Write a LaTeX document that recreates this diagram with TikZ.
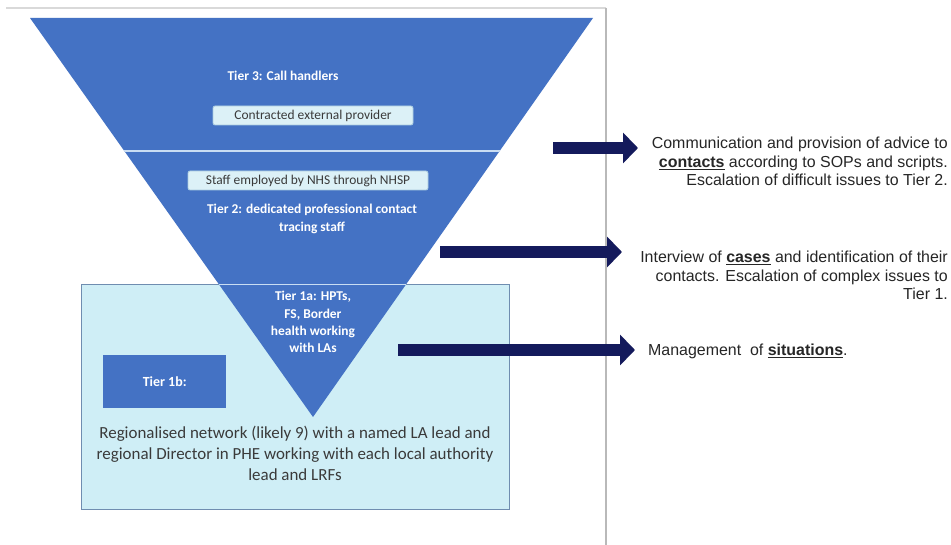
\documentclass[tikz,border=0pt]{standalone}
\usepackage{fontspec}
\setmainfont{Carlito}
\newfontfamily\arialfont{Liberation Sans}
\usetikzlibrary{arrows.meta}
\definecolor{triblue}{HTML}{4472C4}
\definecolor{boxfill}{HTML}{CFEEF6}
\definecolor{boxedge}{HTML}{6F8DB0}
\definecolor{lblfill}{HTML}{DCF1F7}
\definecolor{lbledge}{HTML}{A9CBE0}
\definecolor{navy}{HTML}{141A5C}
\definecolor{sepline}{HTML}{C9DDF3}
\definecolor{darktext}{HTML}{3A3A3A}
\definecolor{desctext}{HTML}{262626}
\begin{document}
\begin{tikzpicture}[x=1bp,y=-1bp,
  tiertext/.style={text=white, font=\fontsize{13.5}{17.5}\selectfont\bfseries, align=center, inner sep=0pt},
  lblbox/.style={fill=lblfill, draw=lbledge, line width=0.8bp, rounded corners=2bp, minimum height=19bp, inner sep=0pt, text=darktext, font=\fontsize{13.5}{16}\selectfont},
  desc/.style={font=\arialfont\fontsize{16}{18.5}\selectfont, text=desctext, inner sep=0pt},
  bigarrow/.style={draw=navy, line width=12.5bp, -{Triangle[length=15bp 0 0, width=30bp 0 0]}},
]
\useasboundingbox (0,0) rectangle (951,545);
\fill[white] (0,0) rectangle (951,545);
% page frame
\draw[gray!30, line width=1.2bp] (6,8) -- (606,8);
\draw[gray!55, line width=1.5bp] (606,8) -- (606,545);

% tier 1b region box
\node[draw=boxedge, fill=boxfill, line width=1.2bp, minimum width=428bp, minimum height=225bp, inner sep=0pt, anchor=north west] (region) at (81,284) {};

% inverted triangle
\coordinate (tl) at (30,18);
\coordinate (tr) at (593,18);
\coordinate (apex) at (313,417);
\fill[triblue] (tl) -- (tr) -- (apex) -- cycle;
\begin{scope}
  \clip (tl) -- (tr) -- (apex) -- cycle;
  \draw[sepline, line width=2bp] (0,151) -- (951,151);
  \draw[sepline, line width=1.6bp] (0,284.5) -- (951,284.5);
\end{scope}

% texts inside triangle
\node[tiertext] (t3) at (283,76) {Tier 3: Call handlers};
\node[lblbox, minimum width=200bp] (ext) at (313,115.5) {Contracted external provider};
\node[lblbox, minimum width=240bp] (nhsp) at (308,180.5) {Staff employed by NHS through NHSP};
\node[tiertext] (t2) at (312,219) {Tier 2: dedicated professional contact\\tracing staff};
\node[tiertext, font=\fontsize{13.5}{17.4}\selectfont\bfseries] (t1a) at (313,322) {Tier 1a: HPTs,\\FS, Border\\health working\\with LAs};

% tier 1b
\node[fill=triblue, minimum width=123bp, minimum height=53bp, inner sep=0pt, anchor=north west, text=white, font=\fontsize{14}{16}\selectfont\bfseries] (t1b) at (103,355) {Tier 1b:};
\node[font=\fontsize{17}{21}\selectfont, text=darktext, align=center, inner sep=0pt] (regtext) at (295,453) {Regionalised network (likely 9) with a named LA lead and\\regional Director in PHE working with each local authority\\lead and LRFs};

% right-hand descriptions
\node[desc, align=right, anchor=north east] (d1) at (948,137) {Communication and provision of advice to\\\underline{\textbf{contacts}} according to SOPs and scripts.\\Escalation of difficult issues to Tier 2.};
\node[desc, align=right, anchor=north east] (d2) at (948,251) {Interview of \underline{\textbf{cases}} and identification of their\\contacts. Escalation of complex issues to\\Tier 1.};
\node[desc, anchor=base west] (d3) at (648,355.5) {Management\ \ of \underline{\textbf{situations}}.};

% arrows
\coordinate (a1s) at (553,148);
\coordinate (a1e) at (638,148);
\coordinate (a2s) at (440,252);
\coordinate (a2e) at (622,252);
\coordinate (a3s) at (398,350);
\coordinate (a3e) at (635,350);
\draw[bigarrow] (a1s) -- (a1e);
\draw[bigarrow] (a2s) -- (a2e);
\draw[bigarrow] (a3s) -- (a3e);
\end{tikzpicture}
\end{document}
